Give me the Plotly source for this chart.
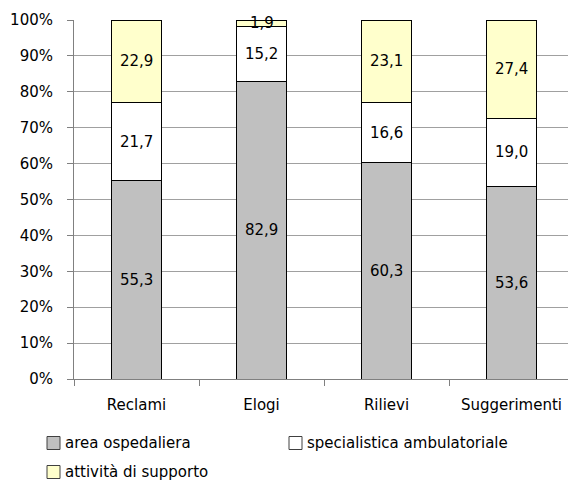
import plotly.graph_objects as go

categories = ["Reclami", "Elogi", "Rilievi", "Suggerimenti"]
area_ospedaliera = [55.3, 82.9, 60.3, 53.6]
specialistica_ambulatoriale = [21.7, 15.2, 16.6, 19.0]
attivita_supporto = [22.9, 1.9, 23.1, 27.4]
y_ticks = [0, 10, 20, 30, 40, 50, 60, 70, 80, 90, 100]
y_tick_labels = ["0%", "10%", "20%", "30%", "40%", "50%", "60%", "70%", "80%", "90%", "100%"]

series = [
    ("area ospedaliera", area_ospedaliera, "#C0C0C0"),
    ("specialistica ambulatoriale", specialistica_ambulatoriale, "#FFFFFF"),
    ("attività di supporto", attivita_supporto, "#FFFFCC"),
]

FONT = "DejaVu Sans"
W, H = 568, 481
ML, MR, MT, MB = 74, 0, 20, 102
PW, PH = W - ML - MR, H - MT - MB


def px_to_paper(x, y):
    return (x - ML) / PW, (H - MB - y) / PH


fig = go.Figure()
base = [0.0] * len(categories)
for name, values, color in series:
    fig.add_trace(go.Bar(
        x=categories,
        y=values,
        name=name,
        marker=dict(color=color, line=dict(color="#000000", width=1)),
        hoverinfo="skip",
        showlegend=False,
    ))
    # value labels centred on each segment (may spill over thin segments)
    for i, (cat, v) in enumerate(zip(categories, values)):
        fig.add_annotation(
            x=cat, y=base[i] + v / 2, xref="x", yref="y",
            text=f"{v:.1f}".replace(".", ","), showarrow=False,
            xanchor="center", yanchor="middle",
            font=dict(family=FONT, size=15, color="#000000"),
        )
        base[i] += v

# Legend drawn below the plot: two entries on the first row, one on the second
legend_slots = [(47, 443), (289, 443), (47, 472)]
for (name, _, color), (lx, ly) in zip(series, legend_slots):
    x0, y0 = px_to_paper(lx, ly + 6.5)
    x1, y1 = px_to_paper(lx + 13, ly - 6.5)
    fig.add_shape(type="rect", xref="paper", yref="paper",
                  x0=x0, y0=y0, x1=x1, y1=y1,
                  fillcolor=color, line=dict(color="#404040", width=1))
    tx, ty = px_to_paper(lx + 16, ly)
    fig.add_annotation(xref="paper", yref="paper", x=tx, y=ty,
                       xanchor="left", yanchor="middle", showarrow=False,
                       text=name, font=dict(family=FONT, size=15, color="#000000"))

fig.update_layout(
    width=W,
    height=H,
    barmode="stack",
    bargap=0.6,
    separators=",.",
    paper_bgcolor="#FFFFFF",
    plot_bgcolor="#FFFFFF",
    margin=dict(l=ML, r=MR, t=MT, b=MB, autoexpand=False),
    font=dict(family=FONT, size=15, color="#000000"),
    showlegend=False,
)

fig.update_xaxes(
    range=[-0.5, 3.452],
    showgrid=False,
    showline=True,
    linecolor="#808080",
    linewidth=1,
    ticks="outside",
    tickson="boundaries",
    ticklen=6,
    tickcolor="#808080",
    ticklabelstandoff=12,
    tickfont=dict(family=FONT, size=15),
)

fig.update_yaxes(
    range=[0, 100],
    tickvals=y_ticks,
    ticktext=y_tick_labels,
    showgrid=True,
    gridcolor="#A0A0A0",
    gridwidth=1,
    showline=True,
    linecolor="#808080",
    linewidth=1,
    ticks="outside",
    ticklen=6,
    tickcolor="#808080",
    ticklabelstandoff=11,
    zeroline=False,
    tickfont=dict(family=FONT, size=15),
)

fig.write_html("out.html")
